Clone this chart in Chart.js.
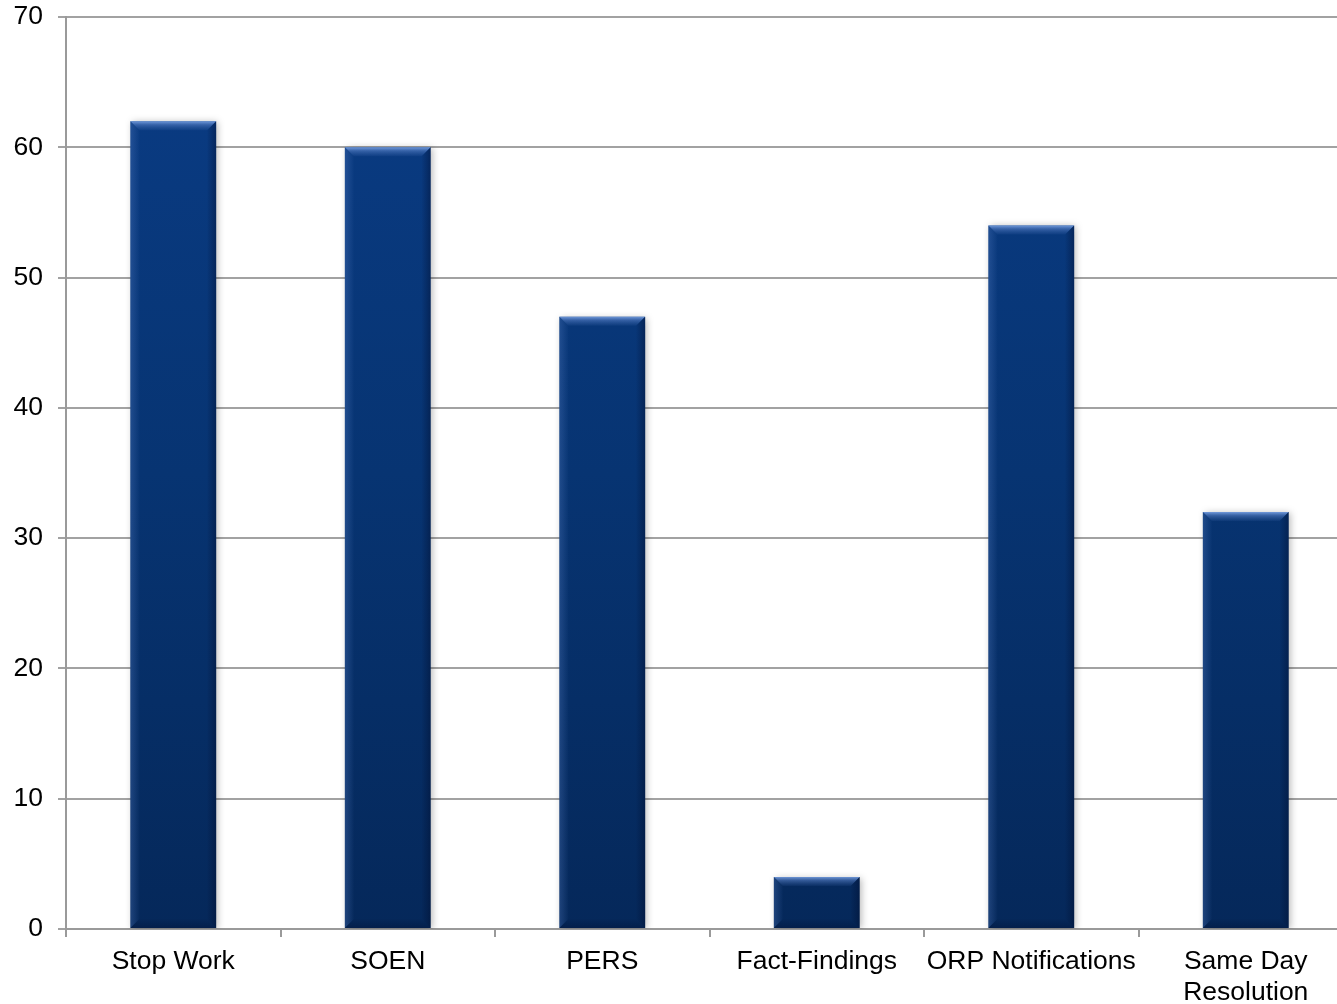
<!DOCTYPE html>
<html>
<head>
<meta charset="utf-8">
<script src="https://cdn.jsdelivr.net/npm/chart.js@4/dist/chart.umd.min.js"></script>
<style>
  html, body { margin: 0; padding: 0; background: #fff; overflow: hidden; }
  #wrap { width: 1337px; height: 1004px; overflow: hidden; position: relative; }
  canvas { display: block; }
</style>
</head>
<body>
<div id="wrap"><canvas id="c" width="1354" height="1004"></canvas></div>
<script>
// Categories and their counts
const categories = ['Stop Work', 'SOEN', 'PERS', 'Fact-Findings', 'ORP Notifications', ['Same Day', 'Resolution']];
const counts = [62, 60, 47, 4, 54, 32];
const yMax = 70;
const yStep = 10;

const FONT = '"Liberation Sans", Arial, Helvetica, sans-serif';

// Soft drop shadow behind the bars
const shadowPlugin = {
  id: 'barShadow',
  beforeDatasetDraw(chart) {
    const ctx = chart.ctx;
    ctx.save();
    ctx.shadowColor = 'rgba(0,0,0,0.28)';
    ctx.shadowBlur = 7;
    ctx.shadowOffsetX = 2;
    ctx.shadowOffsetY = 1;
  },
  afterDatasetDraw(chart) {
    chart.ctx.restore();
  }
};

// Bevelled edges on each bar, drawn from the bar elements' own geometry
const bevelPlugin = {
  id: 'bevel',
  afterDatasetsDraw(chart) {
    const ctx = chart.ctx;
    const meta = chart.getDatasetMeta(0);
    meta.data.forEach(bar => {
      const p = bar.getProps(['x', 'y', 'base', 'width'], true);
      const l = p.x - p.width / 2, r = p.x + p.width / 2;
      const t = Math.min(p.y, p.base), btm = Math.max(p.y, p.base);
      const b = Math.min(9, (btm - t) / 2);
      ctx.save();
      // top
      let g = ctx.createLinearGradient(0, t, 0, t + b);
      g.addColorStop(0, 'rgba(125,165,230,0.9)');
      g.addColorStop(0.4, 'rgba(90,130,200,0.55)');
      g.addColorStop(1, 'rgba(70,110,180,0.1)');
      ctx.fillStyle = g;
      ctx.beginPath();
      ctx.moveTo(l, t); ctx.lineTo(r, t); ctx.lineTo(r - b, t + b); ctx.lineTo(l + b, t + b); ctx.closePath();
      ctx.fill();
      // left
      g = ctx.createLinearGradient(l, 0, l + b, 0);
      g.addColorStop(0, 'rgba(90,130,200,0.30)');
      g.addColorStop(1, 'rgba(90,130,200,0.02)');
      ctx.fillStyle = g;
      ctx.beginPath();
      ctx.moveTo(l, t); ctx.lineTo(l + b, t + b); ctx.lineTo(l + b, btm - b); ctx.lineTo(l, btm); ctx.closePath();
      ctx.fill();
      // right
      g = ctx.createLinearGradient(r - b, 0, r, 0);
      g.addColorStop(0, 'rgba(0,10,40,0.02)');
      g.addColorStop(1, 'rgba(0,10,40,0.40)');
      ctx.fillStyle = g;
      ctx.beginPath();
      ctx.moveTo(r, t); ctx.lineTo(r, btm); ctx.lineTo(r - b, btm - b); ctx.lineTo(r - b, t + b); ctx.closePath();
      ctx.fill();
      // bottom
      g = ctx.createLinearGradient(0, btm - b, 0, btm);
      g.addColorStop(0, 'rgba(0,10,40,0.02)');
      g.addColorStop(1, 'rgba(0,10,40,0.30)');
      ctx.fillStyle = g;
      ctx.beginPath();
      ctx.moveTo(l, btm); ctx.lineTo(r, btm); ctx.lineTo(r - b, btm - b); ctx.lineTo(l + b, btm - b); ctx.closePath();
      ctx.fill();
      ctx.restore();
    });
  }
};

function barFill(context) {
  const chart = context.chart;
  const area = chart.chartArea;
  if (!area) return '#073473';
  const g = chart.ctx.createLinearGradient(0, area.top, 0, area.bottom);
  g.addColorStop(0, '#0a3c85');
  g.addColorStop(0.5, '#073472');
  g.addColorStop(1, '#05285a');
  return g;
}

new Chart(document.getElementById('c'), {
  type: 'bar',
  data: {
    labels: categories,
    datasets: [{
      data: counts,
      backgroundColor: barFill,
      borderWidth: 0,
      categoryPercentage: 1.0,
      barPercentage: 0.40
    }]
  },
  options: {
    responsive: false,
    animation: false,
    devicePixelRatio: 1,
    layout: { padding: { top: 17, left: 0, right: 1, bottom: 0 } },
    plugins: {
      legend: { display: false },
      tooltip: { enabled: false }
    },
    scales: {
      x: {
        offset: true,
        grid: {
          offset: true,
          drawOnChartArea: false,
          drawTicks: true,
          tickLength: 8,
          color: '#9a9a9a',
          lineWidth: 2
        },
        border: { display: true, color: '#9a9a9a', width: 2 },
        ticks: {
          color: '#000',
          padding: 9,
          maxRotation: 0,
          autoSkip: false,
          font: { family: FONT, size: 26.5, lineHeight: 1.17 }
        },
        afterFit(s) { s.height = 75; s.paddingLeft = 0; s.paddingRight = 0; }
      },
      y: {
        min: 0,
        max: yMax,
        ticks: {
          stepSize: yStep,
          color: '#000',
          padding: 15,
          font: { family: FONT, size: 26.5 }
        },
        grid: {
          color: '#a2a2a2',
          lineWidth: 2,
          tickLength: 8,
          drawTicks: true
        },
        border: { display: true, color: '#9a9a9a', width: 2 },
        afterFit(s) { s.width = 66; s.paddingTop = 0; s.paddingBottom = 0; }
      }
    }
  },
  plugins: [shadowPlugin, bevelPlugin]
});
</script>
</body>
</html>
